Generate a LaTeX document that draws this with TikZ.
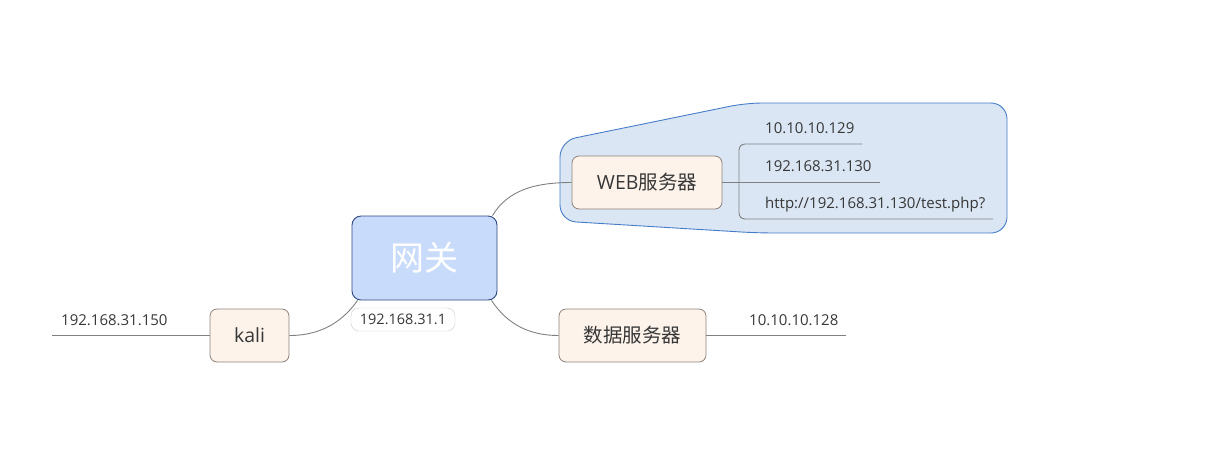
\documentclass[tikz,border=0pt]{standalone}
\usepackage{fontspec}
\setmainfont{Open Sans}
\newfontfamily\cjk{Noto Sans CJK SC}
\usetikzlibrary{calc}
\definecolor{gwfill}{RGB}{201,219,251}
\definecolor{gwline}{RGB}{48,72,130}
\definecolor{tpfill}{RGB}{253,243,235}
\definecolor{tpline}{RGB}{140,130,124}
\definecolor{bdfill}{RGB}{218,230,244}
\definecolor{bdline}{RGB}{70,125,200}
\definecolor{lncol}{RGB}{128,128,128}
\definecolor{txcol}{RGB}{55,55,55}
\begin{document}
\begin{tikzpicture}[x=1pt,y=-1pt,
  topic/.style={draw=tpline,fill=tpfill,rounded corners=7,line width=0.8pt,
    minimum height=53pt,inner sep=0pt,text=txcol,font=\fontsize{19.5}{22}\selectfont},
  conn/.style={draw=lncol,line width=0.9pt},
  leaf/.style={anchor=base west,inner sep=0pt,text=txcol,font=\fontsize{15}{17}\selectfont}]
\useasboundingbox (0,0) rectangle (1217,448);
% boundary
\draw[draw=bdline,fill=bdfill,line width=0.9pt,rounded corners=16]
  (560,180) -- (560,141) -- (746,103) -- (1007,103) -- (1007,233) -- (758,233) -- (560,221) -- cycle;
% central
\node[draw=gwline,fill=gwfill,rounded corners=9,line width=0.9pt,minimum width=145pt,
  minimum height=84pt,inner sep=0pt,text=white,font=\cjk\fontsize{34}{40}\selectfont]
  (gw) at (424.5,258) {网关};
\node[draw=black!20,fill=white,rounded corners=8,minimum width=104pt,minimum height=23pt,
  inner sep=0pt,text=txcol,font=\fontsize{14.5}{16}\selectfont] (gwip) at (403,319.5) {192.168.31.1};
% topics
\node[topic,minimum width=79pt] (kali) at (249.5,335.5) {kali};
\node[topic,minimum width=150pt] (web) at (647,182.5) {WEB{\cjk 服务器}};
\node[topic,minimum width=147pt,font=\cjk\fontsize{19.5}{22}\selectfont] (db) at (632.5,335.5) {数据服务器};
% connectors
\coordinate (gwsw) at ($(gw.south west)+(6,0)$);
\coordinate (gwne) at ($(gw.north east)+(-5,0)$);
\coordinate (gwse) at ($(gw.south east)+(-6,0)$);
\draw[conn] (kali.east) .. controls (325,335.5) and (345,318) .. (gwsw);
\draw[conn] (gwne) .. controls (508,190) and (535,182.5) .. (web.west);
\draw[conn] (gwse) .. controls (508,325) and (530,335.5) .. (db.west);
% leaves
\coordinate (kl) at (52,335.5);
\draw[conn] (kali.west) -- (kl);
\node[leaf] (t1) at (61,325) {192.168.31.150};
\coordinate (dl) at (846,335.5);
\draw[conn] (db.east) -- (dl);
\node[leaf] (t2) at (749,325) {10.10.10.128};
\coordinate (wm) at (880,182.5);
\draw[conn] (web.east) -- (wm);
\coordinate (wt) at (862,144);
\coordinate (wb) at (993,219);
\draw[conn,rounded corners=6] (wt) -- (739,144) -- (739,219) -- (wb);
\node[leaf] (t3) at (765,133) {10.10.10.129};
\node[leaf] (t4) at (765,171) {192.168.31.130};
\node[leaf] (t5) at (765,208) {http://192.168.31.130/test.php?};
\end{tikzpicture}
\end{document}
